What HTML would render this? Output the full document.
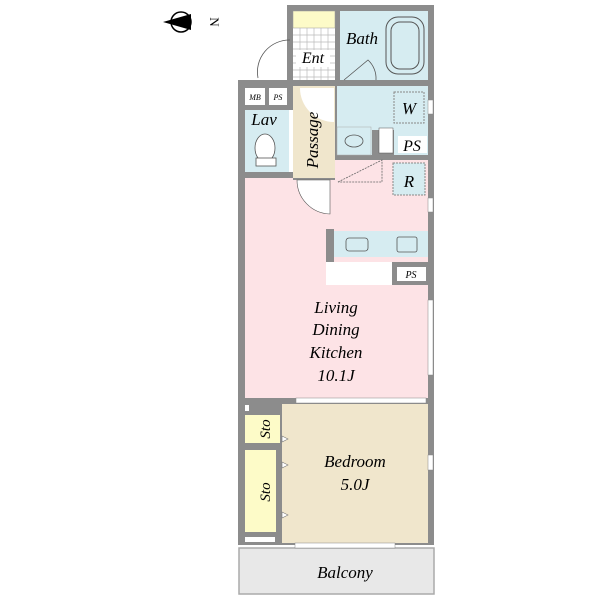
<!DOCTYPE html>
<html><head><meta charset="utf-8"><style>body{margin:0;background:#fff}svg{display:block}</style></head><body>
<svg width="600" height="600" viewBox="0 0 600 600" xmlns="http://www.w3.org/2000/svg" font-family="Liberation Serif, serif" font-style="italic">
<!-- compass -->
<circle cx="181" cy="22" r="10" fill="#fff" stroke="#000" stroke-width="1.5"/>
<path d="M163 22 L191 14 L191 30 Z" fill="#000"/>
<text x="210" y="22" font-size="13" transform="rotate(90 210 22)" text-anchor="middle" font-style="normal">N</text>
<!-- walls -->
<path d="M287 5 H434 V545 H238 V80 H287 Z" fill="#8c8c8c"/>
<!-- balcony -->
<rect x="239" y="548" width="195" height="46" fill="#e8e8e8" stroke="#aaa" stroke-width="1.5"/>
<text x="345" y="578" font-size="17" text-anchor="middle">Balcony</text>
<!-- Ent -->
<rect x="293" y="11" width="42" height="69" fill="#fff"/>
<rect x="293" y="11" width="42" height="17" fill="#fdfbc8" stroke="#999" stroke-width="0.5"/>
<g stroke="#bbb" stroke-width="0.7">
<path d="M293 35H335M293 42H335M293 49H335M293 56H335M293 63H335M293 70H335M293 77H335M300 28V80M307 28V80M314 28V80M321 28V80M328 28V80"/>
</g>
<rect x="296" y="50" width="34" height="17" fill="#fff"/>
<text x="313" y="63" font-size="16" text-anchor="middle">Ent</text>
<path d="M258 78 A32 32 0 0 1 290 40" fill="none" stroke="#555" stroke-width="0.8"/>
<!-- Bath -->
<rect x="340" y="11" width="88" height="69" fill="#d6ecf1"/>
<rect x="386" y="17" width="38" height="57" rx="12" fill="none" stroke="#555"/>
<rect x="391" y="22" width="28" height="47" rx="9" fill="none" stroke="#555"/>
<text x="362" y="44" font-size="17" text-anchor="middle">Bath</text>
<path d="M344 80 L368 60 A25 25 0 0 1 376 80" fill="none" stroke="#555" stroke-width="0.8"/>
<!-- MB PS -->
<rect x="245" y="88" width="20" height="17" fill="#fff"/><rect x="269" y="88" width="18" height="17" fill="#fff"/>
<text x="255" y="100" font-size="8" text-anchor="middle">MB</text><text x="278" y="100" font-size="8" text-anchor="middle">PS</text>
<!-- Lav -->
<rect x="245" y="110" width="44" height="62" fill="#d6ecf1"/>
<rect x="289" y="110" width="4" height="62" fill="#fff"/>
<text x="264" y="125" font-size="17" text-anchor="middle">Lav</text>
<ellipse cx="265" cy="148" rx="10" ry="14" fill="#fff" stroke="#555" stroke-width="0.8"/>
<rect x="256" y="158" width="20" height="8" fill="#fff" stroke="#555" stroke-width="0.8"/>
<!-- Passage -->
<rect x="293" y="86" width="42" height="92" fill="#f0e6cc"/>
<path d="M300 88 A34 34 0 0 0 334 122 V88 Z" fill="#fff"/>
<text x="0" y="0" font-size="17" text-anchor="middle" transform="translate(318 140) rotate(-90)">Passage</text>
<!-- wash -->
<rect x="337" y="86" width="91" height="69" fill="#d6ecf1"/>
<rect x="337" y="127" width="34" height="28" fill="#d6ecf1" stroke="#aaa" stroke-width="0.5"/>
<ellipse cx="354" cy="141" rx="9" ry="6" fill="none" stroke="#555" stroke-width="0.8"/>
<rect x="372" y="130" width="22" height="25" fill="#8c8c8c"/>
<rect x="379" y="128" width="14" height="25" fill="#fff" stroke="#555" stroke-width="0.5"/>
<rect x="394" y="92" width="30" height="31" fill="none" stroke="#888" stroke-dasharray="2 1"/>
<text x="409" y="114" font-size="17" text-anchor="middle">W</text>
<rect x="398" y="136" width="29" height="17" fill="#fff"/>
<text x="412" y="151" font-size="16" text-anchor="middle">PS</text>
<rect x="428" y="100" width="5" height="14" fill="#fff" stroke="#888" stroke-width="0.5"/>
<!-- LDK -->
<path d="M245 178 H293 V180 H335 V160 H428 V398 H245 Z" fill="#fde3e6"/>
<path d="M338 182 L382 160 V182 Z" fill="none" stroke="#666" stroke-dasharray="2 1" stroke-width="0.8"/>
<rect x="393" y="163" width="32" height="32" fill="#d6ecf1" stroke="#888" stroke-dasharray="2 1"/>
<text x="409" y="187" font-size="17" text-anchor="middle">R</text>
<path d="M297 180 A34 34 0 0 0 330 214 V180 Z" fill="#fff" stroke="#555" stroke-width="0.6"/>
<rect x="428" y="198" width="5" height="14" fill="#fff" stroke="#888" stroke-width="0.5"/>
<!-- kitchen -->
<rect x="326" y="229" width="8" height="33" fill="#8c8c8c"/>
<rect x="334" y="231" width="94" height="26" fill="#d6ecf1"/>
<rect x="346" y="238" width="22" height="13" rx="3" fill="none" stroke="#555" stroke-width="0.8"/>
<rect x="397" y="237" width="20" height="15" rx="2" fill="none" stroke="#555" stroke-width="0.8"/>
<rect x="326" y="262" width="66" height="23" fill="#fff"/>
<rect x="392" y="262" width="36" height="23" fill="#8c8c8c"/>
<rect x="397" y="267" width="29" height="14" fill="#fff"/>
<text x="411" y="278" font-size="10" text-anchor="middle">PS</text>
<rect x="428" y="300" width="5" height="75" fill="#fff" stroke="#888" stroke-width="0.5"/>
<g font-size="17" text-anchor="middle">
<text x="336" y="313">Living</text><text x="336" y="335">Dining</text><text x="336" y="358">Kitchen</text><text x="336" y="381">10.1J</text></g>
<rect x="296" y="398" width="130" height="5" fill="#fff" stroke="#888" stroke-width="0.5"/>
<!-- bedroom -->
<rect x="282" y="404" width="146" height="139" fill="#f0e6cc"/>
<rect x="428" y="455" width="5" height="15" fill="#fff" stroke="#888" stroke-width="0.5"/>
<text x="355" y="467" font-size="17" text-anchor="middle">Bedroom</text>
<text x="355" y="490" font-size="17" text-anchor="middle">5.0J</text>
<rect x="295" y="543" width="100" height="5" fill="#fff" stroke="#888" stroke-width="0.5"/>
<!-- storage -->
<rect x="245" y="405" width="4" height="6" fill="#fff"/>
<rect x="245" y="415" width="35" height="28" fill="#fdfbc8"/>
<rect x="245" y="450" width="31" height="82" fill="#fdfbc8"/>
<text x="0" y="0" font-size="15" text-anchor="middle" transform="translate(270 429) rotate(-90)">Sto</text>
<text x="0" y="0" font-size="15" text-anchor="middle" transform="translate(270 492) rotate(-90)">Sto</text>
<g fill="#fff" stroke="#777" stroke-width="0.6"><path d="M282 436 l6 3 l-6 3z"/><path d="M282 462 l6 3 l-6 3z"/><path d="M282 512 l6 3 l-6 3z"/></g>
<rect x="245" y="537" width="30" height="5" fill="#fff"/>
</svg>
</body></html>
